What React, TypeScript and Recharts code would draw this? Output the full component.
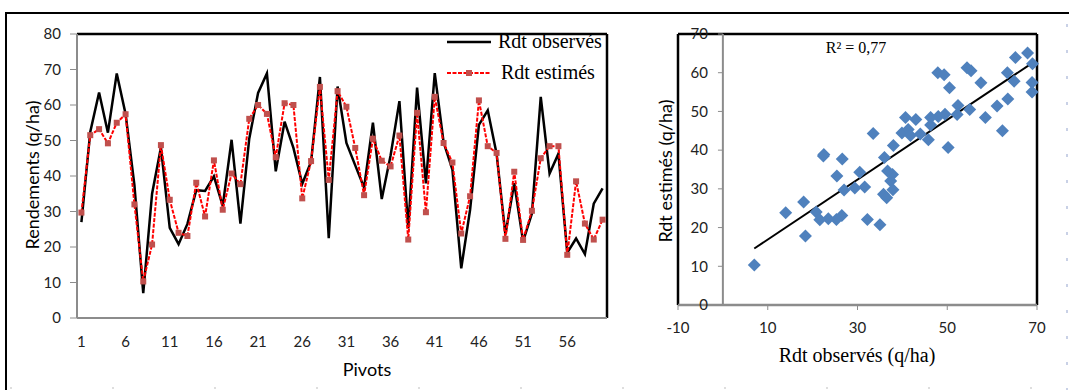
import {
  LineChart,
  Line,
  XAxis,
  YAxis,
  ReferenceLine,
  Legend,
  ScatterChart,
  Scatter,
} from "recharts";

// Rendements par pivot (q/ha)
const pivots = Array.from({ length: 60 }, (_, i) => i + 1);
const observed = [
  27, 52.4, 63.5, 52.2, 68.9, 57.5, 37.4, 7, 35, 48,
  25.4, 20.8, 26.5, 36, 35.8, 39.9, 31.6, 50.2, 26.6, 50.5,
  63.4, 68.9, 41.3, 55.3, 47.9, 37.8, 44, 67.9, 22.5, 65.2,
  49.3, 43, 36.7, 55, 33.5, 45.8, 61.1, 25.3, 64.9, 37.9,
  69, 49.5, 41.8, 14, 30.5, 54.4, 58.5, 46.3, 23.5, 38,
  21.6, 29.4, 62.3, 40.7, 46.3, 18.4, 22.4, 18, 32.2, 36.5,
];
const estimated = [
  29.7, 51.5, 53.2, 49.2, 55, 57.4, 32, 10.3, 20.7, 48.7,
  33.3, 24, 23.1, 38.1, 28.6, 44.4, 30.5, 40.7, 37.7, 56.1,
  60, 57.5, 45.3, 60.5, 60, 33.7, 44.2, 65.1, 38.9, 63.9,
  59.5, 47.9, 34.6, 50.5, 44.3, 42.7, 51.4, 22.1, 57.8, 29.8,
  62.3, 49.3, 43.8, 23.8, 34.3, 61.3, 48.4, 46.5, 22.3, 41.2,
  22, 30.2, 45, 48.4, 48.4, 17.8, 38.5, 26.6, 22.1, 27.7,
];

const pivotTicks = [1, 6, 11, 16, 21, 26, 31, 36, 41, 46, 51, 56];
const leftYTicks = [0, 10, 20, 30, 40, 50, 60, 70, 80];
const rightXTicks = [-10, 10, 30, 50, 70];
const rightYTicks = [0, 10, 20, 30, 40, 50, 60, 70];
const r2Label = "R² = 0,77";

const lineData = pivots.map((p, i) => ({ pivot: p, obs: observed[i], est: estimated[i] }));
const scatterData = observed.map((o, i) => ({ x: o, y: estimated[i] }));
// tick marks sit between categories, like Excel
const boundaries = [0.5, ...pivots.map((p) => p + 0.5)];

// linear trend
const n = scatterData.length;
const mx = scatterData.reduce((s, d) => s + d.x, 0) / n;
const my = scatterData.reduce((s, d) => s + d.y, 0) / n;
const sxy = scatterData.reduce((s, d) => s + (d.x - mx) * (d.y - my), 0);
const sxx = scatterData.reduce((s, d) => s + (d.x - mx) ** 2, 0);
const slope = sxy / sxx;
const intercept = my - slope * mx;
const xMin = Math.min(...observed);
const xMax = Math.max(...observed);

const AXIS_GREY = "#8c8c8c";
const SANS = "Lato, 'Open Sans', sans-serif";
const SERIF = "'Liberation Serif', 'Times New Roman', serif";
const tickStyle = { fontSize: 15, fill: "#222", fontFamily: SANS };

const SquareDot = (props: any) => {
  const { cx, cy } = props;
  if (cx == null || cy == null) return null;
  return <rect x={cx - 3} y={cy - 3} width={6} height={6} fill="#C0504D" />;
};

const Diamond = (props: any) => {
  const { cx, cy } = props;
  const r = 6.5;
  return (
    <polygon
      points={`${cx},${cy - r} ${cx + r},${cy} ${cx},${cy + r} ${cx - r},${cy}`}
      fill="#4F81BD"
    />
  );
};

const LegendBox = () => (
  <div style={{ fontFamily: SERIF, fontSize: 20, color: "#000", lineHeight: "31px" }}>
    <div style={{ display: "flex", alignItems: "center" }}>
      <svg width={48} height={10}>
        <line x1={2} y1={5} x2={46} y2={5} stroke="#000" strokeWidth={2.5} />
      </svg>
      <span style={{ marginLeft: 5 }}>Rdt observés</span>
    </div>
    <div style={{ display: "flex", alignItems: "center" }}>
      <svg width={48} height={10}>
        <line x1={2} y1={5} x2={46} y2={5} stroke="#FF0000" strokeWidth={2} strokeDasharray="4 1.5" />
        <rect x={21} y={2} width={6} height={6} fill="#C0504D" />
      </svg>
      <span style={{ marginLeft: 8 }}>Rdt estimés</span>
    </div>
  </div>
);

function YieldLines() {
  return (
    <LineChart width={620} height={390} data={lineData} margin={{ top: 34, right: 13, bottom: 36, left: 17 }}>
      <XAxis
        xAxisId="a"
        dataKey="pivot"
        type="number"
        domain={[0.5, 60.5]}
        ticks={boundaries}
        tick={false}
        tickSize={5}
        tickLine={{ stroke: AXIS_GREY }}
        axisLine={{ stroke: AXIS_GREY, strokeWidth: 2 }}
        height={6}
      />
      <XAxis
        xAxisId="b"
        dataKey="pivot"
        type="number"
        domain={[0.5, 60.5]}
        ticks={pivotTicks}
        axisLine={false}
        tickLine={false}
        tickSize={0}
        tickMargin={12}
        tick={tickStyle}
        height={30}
      />
      <YAxis
        domain={[0, 80]}
        ticks={leftYTicks}
        width={60}
        tickSize={7}
        tickMargin={9}
        tick={tickStyle}
        tickLine={{ stroke: AXIS_GREY }}
        axisLine={{ stroke: AXIS_GREY, strokeWidth: 2 }}
      />
      <ReferenceLine xAxisId="a" y={80} stroke="#000" strokeWidth={2.5} />
      <ReferenceLine xAxisId="a" x={60.5} stroke="#000" strokeWidth={2.5} />
      <Line
        xAxisId="a"
        type="linear"
        dataKey="obs"
        stroke="#000"
        strokeWidth={2.5}
        dot={false}
        isAnimationActive={false}
      />
      <Line
        xAxisId="a"
        type="linear"
        dataKey="est"
        stroke="#FF0000"
        strokeWidth={2}
        strokeDasharray="4 1.5"
        dot={<SquareDot />}
        isAnimationActive={false}
      />
      <Legend
        layout="horizontal"
        verticalAlign="middle"
        align="center"
        content={<LegendBox />}
        wrapperStyle={{ left: 445, top: 26, width: 170, height: 62 }}
      />
    </LineChart>
  );
}

function YieldScatter() {
  return (
    <ScatterChart width={429} height={390} margin={{ top: 34, right: 32, bottom: 55, left: 38 }}>
      <XAxis
        type="number"
        dataKey="x"
        domain={[-10, 70]}
        ticks={rightXTicks}
        tickSize={5}
        tickMargin={12}
        tick={tickStyle}
        tickLine={{ stroke: AXIS_GREY }}
        axisLine={{ stroke: AXIS_GREY, strokeWidth: 2.5 }}
        height={30}
      />
      <YAxis type="number" dataKey="y" domain={[0, 70]} hide />
      <ReferenceLine x={-10} stroke="#000" strokeWidth={2.5} />
      <ReferenceLine x={70} stroke="#000" strokeWidth={2.5} />
      <ReferenceLine y={70} stroke="#000" strokeWidth={2.5} />
      <ReferenceLine x={0} stroke={AXIS_GREY} strokeWidth={2} />
      {rightYTicks.map((v) => (
        <ReferenceLine
          key={v}
          segment={[
            { x: -1.1, y: v },
            { x: 0, y: v },
          ]}
          stroke={AXIS_GREY}
          label={{ value: String(v), position: "left", offset: 10, style: tickStyle }}
        />
      ))}
      <ReferenceLine
        segment={[
          { x: xMin, y: intercept + slope * xMin },
          { x: xMax, y: intercept + slope * xMax },
        ]}
        stroke="#000"
        strokeWidth={2}
      />
      <Scatter data={scatterData} shape={<Diamond />} isAnimationActive={false} />
    </ScatterChart>
  );
}

export default function App() {
  const abs = { position: "absolute" as const };
  return (
    <div style={{ position: "absolute", left: 0, top: 0, width: 1069, height: 390, background: "#fff", overflow: "hidden" }}>
      <div style={{ ...abs, left: 5, top: 12, right: 0, bottom: 0, borderTop: "2.5px solid #000", borderLeft: "2px solid #000" }} />
      <svg style={{ ...abs, left: 0, top: 0 }} width={1069} height={390}>
        <line x1={1067} y1={24} x2={1067} y2={390} stroke="#c9d1e6" strokeWidth={2} strokeDasharray="3 23" />
        <line x1={10} y1={388} x2={1060} y2={388} stroke="#d4d4d4" strokeWidth={1.5} strokeDasharray="2 100" />
      </svg>

      <div style={{ ...abs, left: 0, top: 0 }}>
        <YieldLines />
      </div>
      <div style={{ ...abs, left: 640, top: 0 }}>
        <YieldScatter />
      </div>

      <div style={{ ...abs, left: 32, top: 175, transform: "translate(-50%, -50%) rotate(-90deg)", whiteSpace: "nowrap", fontFamily: SANS, fontSize: 18, color: "#000" }}>
        Rendements (q/ha)
      </div>
      <div style={{ ...abs, left: 367, top: 369, transform: "translate(-50%, -50%)", whiteSpace: "nowrap", fontFamily: SANS, fontSize: 18, color: "#000" }}>
        Pivots
      </div>
      <div style={{ ...abs, left: 665, top: 171, transform: "translate(-50%, -50%) rotate(-90deg)", whiteSpace: "nowrap", fontFamily: SANS, fontSize: 18, color: "#000" }}>
        Rdt estimés (q/ha)
      </div>
      <div style={{ ...abs, left: 857, top: 355, transform: "translate(-50%, -50%)", whiteSpace: "nowrap", fontFamily: SERIF, fontSize: 20, color: "#000" }}>
        Rdt observés (q/ha)
      </div>
      <div style={{ ...abs, left: 856, top: 48, transform: "translate(-50%, -50%)", whiteSpace: "nowrap", fontFamily: SERIF, fontSize: 16, color: "#000" }}>
        {r2Label}
      </div>
    </div>
  );
}
